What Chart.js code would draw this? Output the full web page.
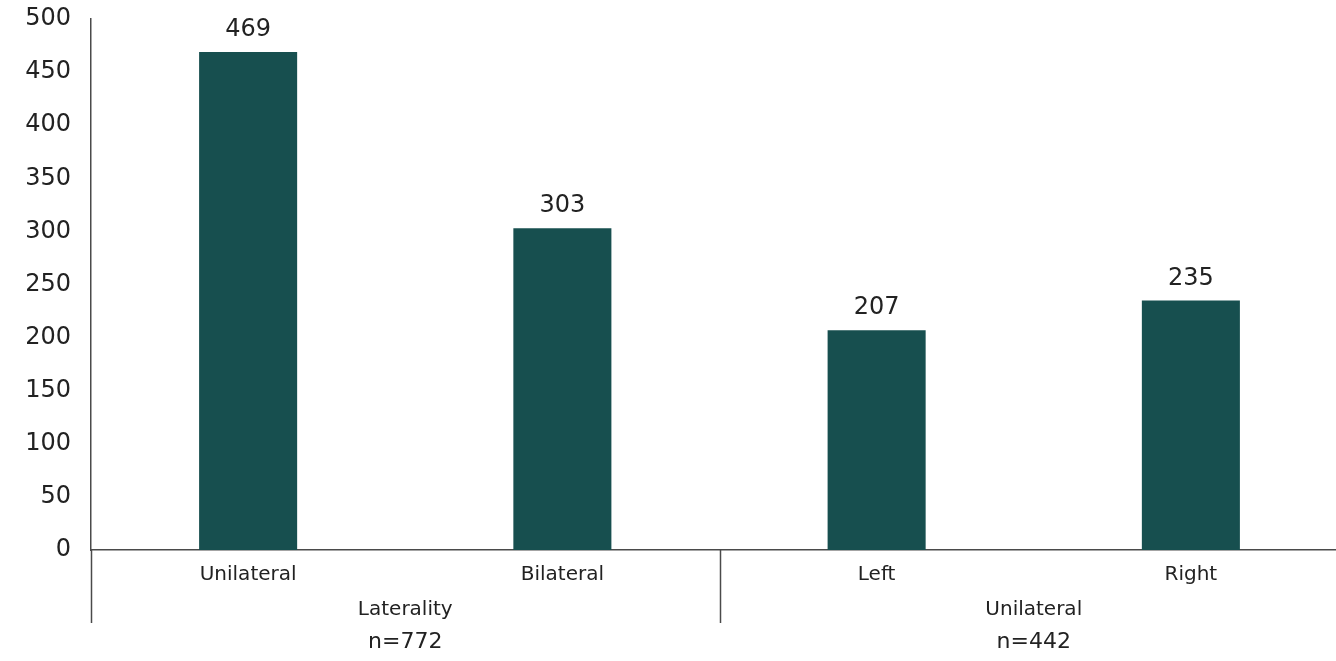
<!DOCTYPE html>
<html>
<head>
<meta charset="utf-8">
<script src="https://cdn.jsdelivr.net/npm/chart.js@4.4.1/dist/chart.umd.min.js"></script>
<style>
  html, body { margin: 0; padding: 0; background: #fff; overflow: hidden; }
  #wrap { width: 1348px; height: 661px; }
</style>
</head>
<body>
<div id="wrap"><canvas id="barChart" width="1348" height="661"></canvas></div>
<script>
// kategori dan nilai
const categories = ['Unilateral', 'Bilateral', 'Left', 'Right'];
const counts = [469, 303, 207, 235];
// grup kategori: [label, n, indeks awal, indeks akhir]
const groupNames = ['Laterality', 'Unilateral'];
const groupN = ['n=772', 'n=442'];
const groupStart = [0, 2];
const groupEnd = [1, 3];
const yTicks = [0, 50, 100, 150, 200, 250, 300, 350, 400, 450, 500];

const fontFam = "'DejaVu Sans', sans-serif";
const barColor = '#174f4f';
const lineColor = '#4a4a4a';

// label angka di atas batang
const valueLabels = {
  id: 'valueLabels',
  afterDatasetsDraw(chart) {
    const ctx = chart.ctx;
    const meta = chart.getDatasetMeta(0);
    ctx.save();
    ctx.font = '24px ' + fontFam;
    ctx.fillStyle = '#222';
    ctx.textAlign = 'center';
    ctx.textBaseline = 'middle';
    meta.data.forEach((bar, i) => {
      ctx.fillText(String(counts[i]), bar.x, bar.y - 22);
    });
    ctx.restore();
  }
};

// label grup dan garis pemisah di bawah sumbu x
const groupAxis = {
  id: 'groupAxis',
  afterDraw(chart) {
    const ctx = chart.ctx;
    const x = chart.scales.x;
    const bottom = chart.chartArea.bottom;
    ctx.save();
    ctx.strokeStyle = lineColor;
    ctx.lineWidth = 1.5;
    groupNames.forEach((name, g) => {
      const left = x.getPixelForValue(groupStart[g] - 0.5);
      const right = x.getPixelForValue(groupEnd[g] + 0.5);
      ctx.beginPath();
      ctx.moveTo(Math.round(left) + 0.5, bottom);
      ctx.lineTo(Math.round(left) + 0.5, bottom + 73);
      ctx.stroke();
      const cx = (left + right) / 2;
      ctx.fillStyle = '#222';
      ctx.textAlign = 'center';
      ctx.textBaseline = 'middle';
      ctx.font = '20px ' + fontFam;
      ctx.fillText(name, cx, bottom + 60);
      ctx.font = '22px ' + fontFam;
      ctx.fillText(groupN[g], cx, bottom + 92);
    });
    ctx.restore();
  }
};

new Chart(document.getElementById('barChart'), {
  type: 'bar',
  data: {
    labels: categories,
    datasets: [{
      data: counts,
      backgroundColor: barColor,
      barPercentage: 0.312,
      categoryPercentage: 1
    }]
  },
  options: {
    responsive: false,
    animation: false,
    layout: { padding: { top: 19, right: 0, left: 0, bottom: 0 } },
    plugins: { legend: { display: false }, tooltip: { enabled: false } },
    scales: {
      x: {
        grid: { display: false, drawTicks: false },
        border: { display: true, color: lineColor, width: 1.5 },
        ticks: {
          color: '#222',
          padding: 13,
          font: { family: fontFam, size: 20 }
        },
        afterFit(scale) { scale.height = 111; }
      },
      y: {
        min: 0,
        max: 500,
        afterBuildTicks(scale) { scale.ticks = yTicks.map(v => ({ value: v })); },
        grid: { display: false, drawTicks: false },
        border: { display: true, color: lineColor, width: 1.5 },
        ticks: {
          color: '#222',
          padding: 20,
          font: { family: fontFam, size: 24 }
        },
        afterFit(scale) {
          scale.width = 91;
          scale.paddingTop = 0;
          scale.paddingBottom = 0;
        }
      }
    }
  },
  plugins: [valueLabels, groupAxis]
});
</script>
</body>
</html>
